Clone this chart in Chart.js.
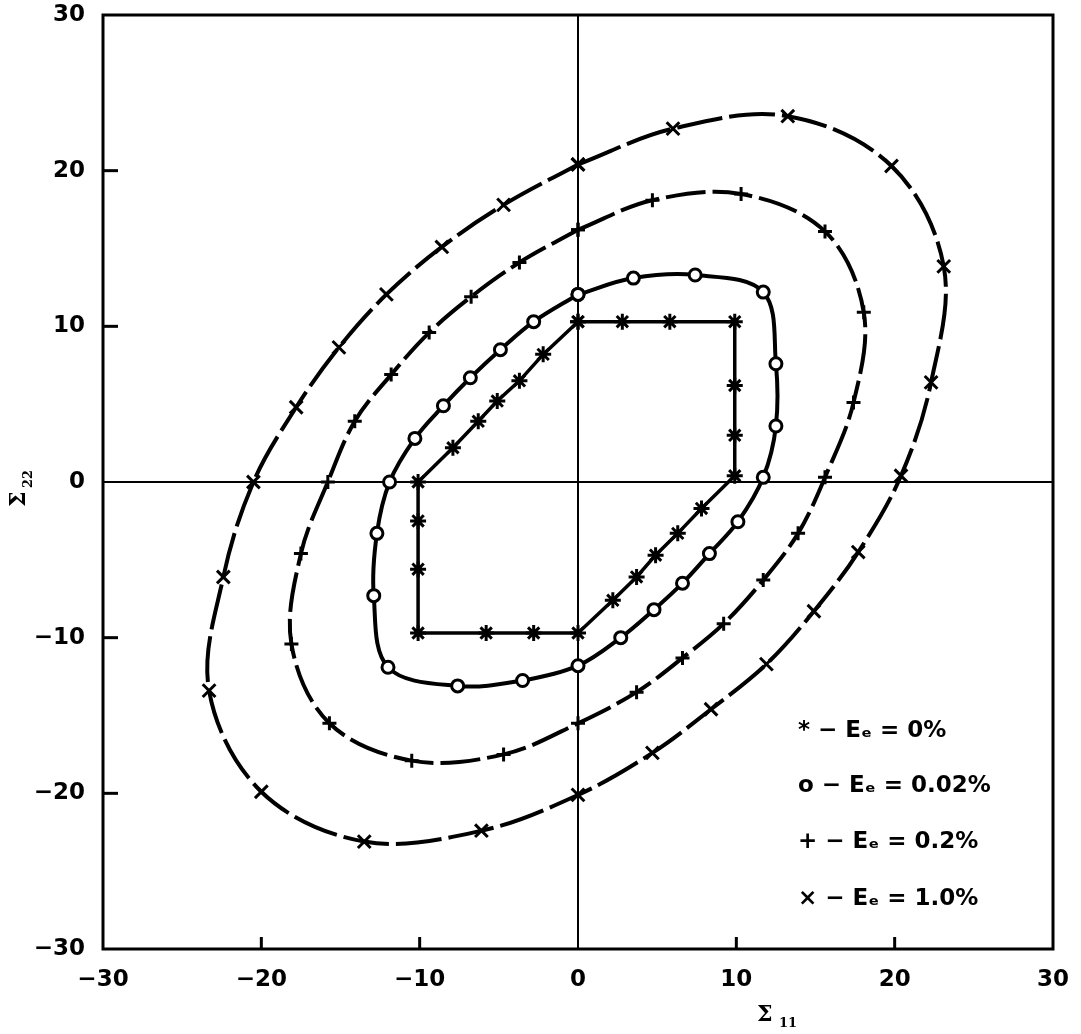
<!DOCTYPE html>
<html>
<head>
<meta charset="utf-8">
<script src="https://cdn.jsdelivr.net/npm/chart.js@4.4.0/dist/chart.umd.min.js"></script>
<style>
  html, body { margin: 0; padding: 0; background: #fff; }
</style>
</head>
<body>
<canvas id="chart" width="1081" height="1034"></canvas>
<script>
// axis ticks
const tickValues = [-30, -20, -10, 0, 10, 20, 30];

// * - Ee = 0%
const s0X = [0, 2.8, 5.8, 9.9, 9.9, 9.9, 9.9, 7.8, 6.3, 4.9, 3.7, 2.2, 0, -2.8, -5.8, -10.1, -10.1, -10.1, -10.1, -7.9, -6.3, -5.1, -3.7, -2.2, 0];
const s0Y = [10.3, 10.3, 10.3, 10.3, 6.2, 3.0, 0.4, -1.7, -3.3, -4.7, -6.1, -7.6, -9.7, -9.7, -9.7, -9.7, -5.6, -2.5, 0, 2.2, 3.9, 5.2, 6.5, 8.2, 10.3];

// o - Ee = 0.02%
const s1X = [0, 3.5, 7.4, 11.7, 12.5, 12.5, 11.7, 10.1, 8.3, 6.6, 4.8, 2.7, 0, -3.5, -7.6, -12.0, -12.9, -12.7, -11.9, -10.3, -8.5, -6.8, -4.9, -2.8, 0];
const s1Y = [12.05, 13.1, 13.3, 12.2, 7.6, 3.6, 0.3, -2.55, -4.6, -6.5, -8.2, -10.0, -11.8, -12.75, -13.1, -11.9, -7.3, -3.3, 0, 2.8, 4.9, 6.7, 8.5, 10.3, 12.05];

// + - Ee = 0.2%
const s2X = [0, 4.7, 10.3, 15.6, 18.05, 17.4, 15.6, 13.9, 11.7, 9.2, 6.6, 3.7, 0, -4.7, -10.5, -15.7, -18.1, -17.5, -15.8, -14.1, -11.8, -9.4, -6.75, -3.7, 0];
const s2Y = [16.2, 18.1, 18.5, 16.1, 10.9, 5.1, 0.3, -3.3, -6.3, -9.1, -11.3, -13.5, -15.5, -17.5, -17.9, -15.5, -10.4, -4.6, 0, 3.9, 6.9, 9.6, 11.9, 14.1, 16.2];

// x - Ee = 1.0%
const s3X = [0, 6.0, 13.25, 19.8, 23.1, 22.3, 20.4, 17.7, 14.9, 11.9, 8.4, 4.7, 0, -6.1, -13.5, -20.0, -23.3, -22.4, -20.5, -17.8, -15.1, -12.1, -8.6, -4.7, 0];
const s3Y = [20.4, 22.7, 23.5, 20.3, 13.85, 6.4, 0.4, -4.5, -8.3, -11.7, -14.6, -17.4, -20.1, -22.4, -23.1, -19.9, -13.4, -6.1, 0, 4.8, 8.65, 12.05, 15.1, 17.8, 20.4];

const legendLabels = ['* \u2212 E\u2091 = 0%', 'o \u2212 E\u2091 = 0.02%', '+ \u2212 E\u2091 = 0.2%', '\u00d7 \u2212 E\u2091 = 1.0%'];

function pts(xs, ys) {
  return xs.map((x, i) => ({ x: x, y: ys[i] }));
}

function fmtTick(v) {
  return v < 0 ? '\u2212' + Math.abs(v) : String(v);
}

// frame, inward tick marks, axis titles, legend text
const decorPlugin = {
  id: 'decor',
  afterDraw(chart) {
    const ctx = chart.ctx;
    const a = chart.chartArea;
    const xs = chart.scales.x, ys = chart.scales.y;
    ctx.save();
    ctx.strokeStyle = '#000';
    ctx.lineWidth = 3;
    ctx.strokeRect(a.left, a.top, a.right - a.left, a.bottom - a.top);

    tickValues.forEach(v => {
      if (v === 0 || Math.abs(v) === 30) return;
      const py = ys.getPixelForValue(v);
      ctx.beginPath(); ctx.moveTo(a.left, py); ctx.lineTo(a.left + 15, py); ctx.stroke();
      const px = xs.getPixelForValue(v);
      ctx.beginPath(); ctx.moveTo(px, a.bottom); ctx.lineTo(px, a.bottom - 12); ctx.stroke();
    });

    ctx.fillStyle = '#000';
    // x title
    ctx.textAlign = 'left';
    ctx.textBaseline = 'alphabetic';
    ctx.font = 'bold 22px "DejaVu Serif"';
    ctx.fillText('\u03a3', 757, 1021);
    ctx.font = 'bold 13px "DejaVu Serif"';
    ctx.fillText('11', 779, 1027);

    // y title
    ctx.save();
    ctx.translate(25, 507);
    ctx.rotate(-Math.PI / 2);
    ctx.font = 'bold 22px "DejaVu Serif"';
    ctx.fillText('\u03a3', 0, 0);
    ctx.font = 'bold 13px "DejaVu Serif"';
    ctx.fillText('22', 19, 7);
    ctx.restore();

    // legend
    ctx.font = 'bold 23px "DejaVu Sans"';
    const baselines = [737, 792, 848, 905];
    legendLabels.forEach((t, i) => ctx.fillText(t, 798, baselines[i]));
    ctx.restore();
  }
};

function ds(label, xs, ys, style, extra) {
  return Object.assign({
    label: label,
    data: pts(xs, ys),
    showLine: true,
    borderColor: '#000',
    borderWidth: 4,
    tension: 0.35,
    pointStyle: style,
    pointRadius: 7,
    pointBorderWidth: 3,
    pointBorderColor: '#000',
    pointBackgroundColor: '#fff',
    fill: false
  }, extra || {});
}

new Chart(document.getElementById('chart').getContext('2d'), {
  type: 'scatter',
  data: {
    datasets: [
      ds(legendLabels[0], s0X, s0Y, 'star', { tension: 0, borderWidth: 3.5, pointRadius: 8 }),
      ds(legendLabels[1], s1X, s1Y, 'circle', { pointRadius: 6 }),
      ds(legendLabels[2], s2X, s2Y, 'cross', { borderDash: [40, 7] }),
      ds(legendLabels[3], s3X, s3Y, 'crossRot', { borderDash: [46, 7], pointRadius: 9 })
    ]
  },
  options: {
    responsive: false,
    animation: false,
    layout: { padding: { top: 15, right: 28, left: 0, bottom: 0 } },
    plugins: { legend: { display: false }, tooltip: { enabled: false } },
    scales: {
      x: {
        type: 'linear',
        min: -30, max: 30,
        afterBuildTicks: s => { s.ticks = tickValues.map(v => ({ value: v })); },
        afterFit: s => { s.height = 85; s.paddingLeft = 0; s.paddingRight = 0; },
        grid: {
          drawTicks: false,
          color: c => (c.tick && c.tick.value === 0 ? '#000' : 'rgba(0,0,0,0)'),
          lineWidth: 2
        },
        border: { display: false },
        ticks: {
          padding: 17,
          color: '#000',
          font: { family: 'DejaVu Sans', weight: 'bold', size: 23 },
          callback: v => fmtTick(v)
        }
      },
      y: {
        type: 'linear',
        min: -30, max: 30,
        afterBuildTicks: s => { s.ticks = tickValues.map(v => ({ value: v })); },
        afterFit: s => { s.width = 103; s.paddingTop = 0; s.paddingBottom = 0; },
        grid: {
          drawTicks: false,
          color: c => (c.tick && c.tick.value === 0 ? '#000' : 'rgba(0,0,0,0)'),
          lineWidth: 2
        },
        border: { display: false },
        ticks: {
          padding: 18,
          color: '#000',
          font: { family: 'DejaVu Sans', weight: 'bold', size: 23 },
          callback: v => fmtTick(v)
        }
      }
    }
  },
  plugins: [decorPlugin]
});
</script>
</body>
</html>
